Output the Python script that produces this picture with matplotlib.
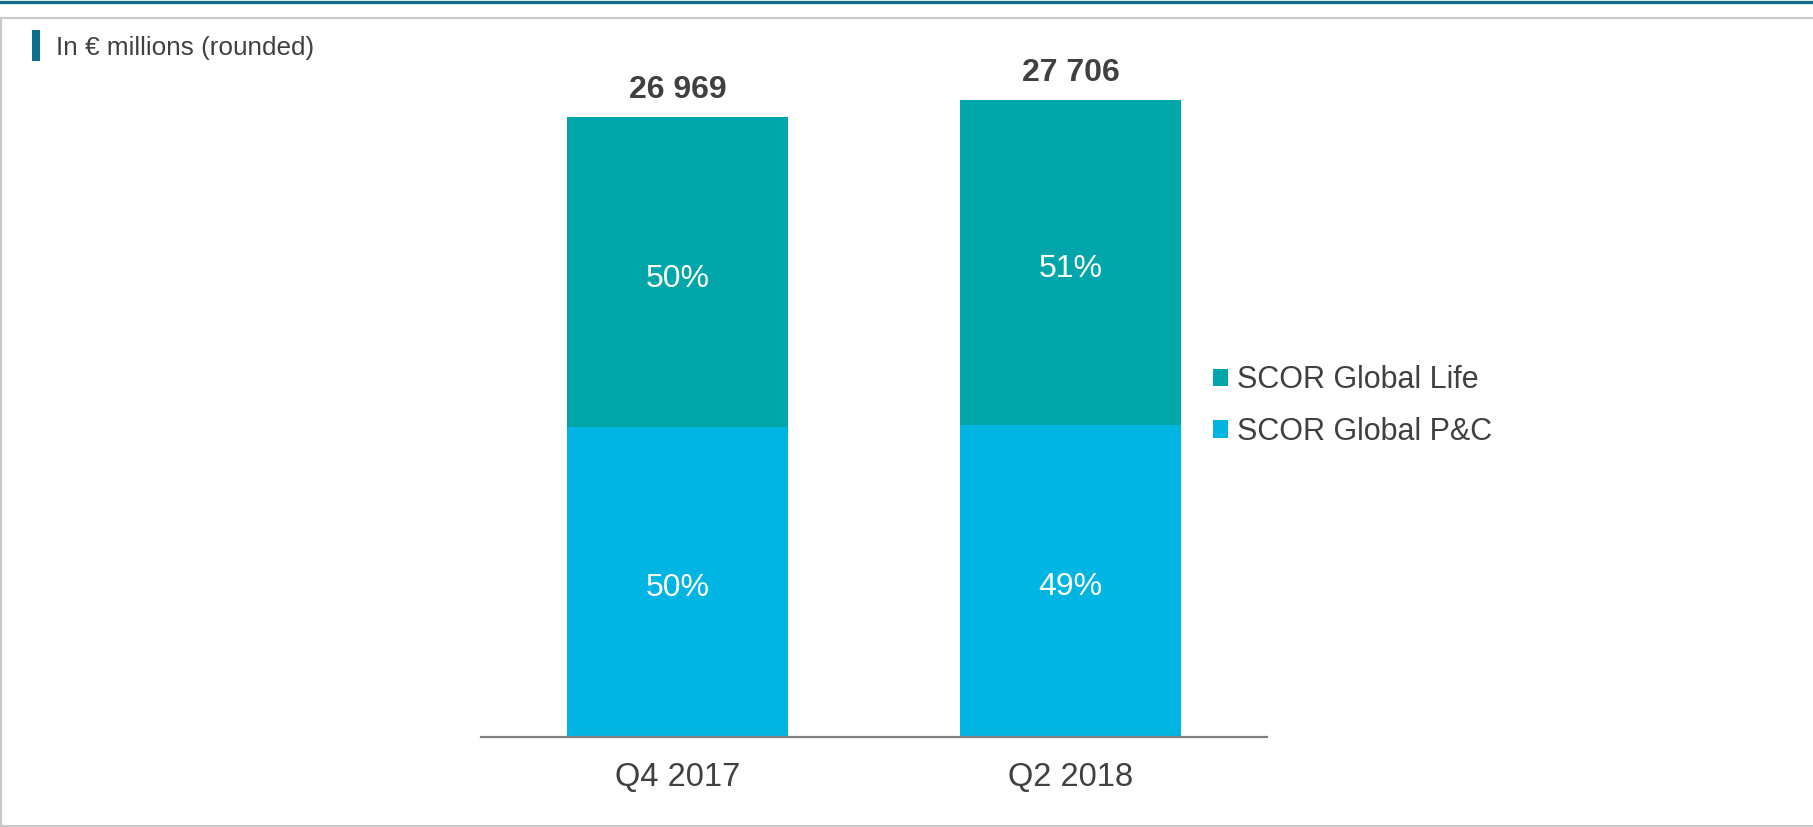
import matplotlib
matplotlib.use("Agg")
import matplotlib.pyplot as plt
from matplotlib.patches import Patch, Rectangle
from matplotlib.lines import Line2D

plt.rcParams['font.family'] = ['Liberation Sans', 'DejaVu Sans']

categories = ["Q4 2017", "Q2 2018"]
pc_values = [13485, 13576]
life_values = [13484, 14130]
totals = [26969, 27706]
pc_labels = ["50%", "49%"]
life_labels = ["50%", "51%"]
total_labels = ["26 969", "27 706"]
series_names = ["SCOR Global Life", "SCOR Global P&C"]

W, H = 1813, 827
fig = plt.figure(figsize=(W / 100, H / 100), dpi=100)
fig.patch.set_facecolor("white")

C_LIFE = "#00A6AA"
C_PC = "#00B5E2"
TXT = "#404040"

# axes placement in pixels
x0, x1 = 481, 1267
ybase = 737
ytop = 20
ax = fig.add_axes([x0 / W, 1 - ybase / H, (x1 - x0) / W, (ybase - ytop) / H])
px_per_unit = 620 / 26969
ax.set_ylim(0, (ybase - ytop) / px_per_unit)
ax.set_xlim(-0.5, 1.5)

xs = list(range(len(categories)))
bw = 0.56
ax.bar(xs, pc_values, width=bw, color=C_PC, zorder=2)
ax.bar(xs, life_values, width=bw, bottom=pc_values, color=C_LIFE, zorder=2)

for i in xs:
    ax.annotate(pc_labels[i], xy=(i, pc_values[i] / 2), xytext=(0, -10),
                textcoords="offset points", ha="center", va="baseline",
                color="white", fontsize=23)
    ax.annotate(life_labels[i], xy=(i, pc_values[i] + life_values[i] / 2),
                xytext=(0, -10.5), textcoords="offset points", ha="center",
                va="baseline", color="white", fontsize=23)
    ax.annotate(total_labels[i], xy=(i, totals[i]), xytext=(0, 13.5),
                textcoords="offset points", ha="center", va="baseline",
                color=TXT, fontsize=23, fontweight="bold")

for s in ["top", "right", "left"]:
    ax.spines[s].set_visible(False)
ax.spines["bottom"].set_color("#808080")
ax.spines["bottom"].set_linewidth(1.6)
ax.set_yticks([])
ax.set_xticks(xs)
ax.set_xticklabels(categories, fontsize=23.5, color=TXT)
ax.tick_params(axis="x", length=0, pad=18)
ax.set_facecolor("none")

# legend
handles = [Patch(facecolor=C_LIFE, edgecolor="none"),
           Patch(facecolor=C_PC, edgecolor="none")]
fig.legend(handles, series_names, loc="center left",
           bbox_to_anchor=(1213 / W, 1 - 406 / H), frameon=False,
           fontsize=22, handlelength=0.5, handleheight=0.5,
           handletextpad=0.3, labelspacing=0.7, borderpad=0,
           borderaxespad=0, labelcolor=TXT)

# title
fig.text(56 / W, 1 - 54.5 / H, "In € millions (rounded)", fontsize=18.8,
         color=TXT, ha="left", va="baseline")
fig.patches.append(Rectangle((32 / W, 1 - 61 / H), 8 / W, 31 / H,
                             transform=fig.transFigure, facecolor="#0E6E8C",
                             edgecolor="none"))

# frame lines
fig.lines.append(Line2D([0, 1], [1 - 1.5 / H, 1 - 1.5 / H], transform=fig.transFigure,
                        color="#0E6E8C", linewidth=2.4))
fig.lines.append(Line2D([0, 1], [1 - 18 / H, 1 - 18 / H], transform=fig.transFigure,
                        color="#C8C8C8", linewidth=1.5))
fig.lines.append(Line2D([0, 1], [1 - 825.5 / H, 1 - 825.5 / H], transform=fig.transFigure,
                        color="#C8C8C8", linewidth=1.5))
fig.lines.append(Line2D([0.5 / W, 0.5 / W], [1 - 18 / H, 1 - 825.5 / H],
                        transform=fig.transFigure, color="#C8C8C8", linewidth=1.5))

fig.savefig("out.png", dpi=100, facecolor="white")
